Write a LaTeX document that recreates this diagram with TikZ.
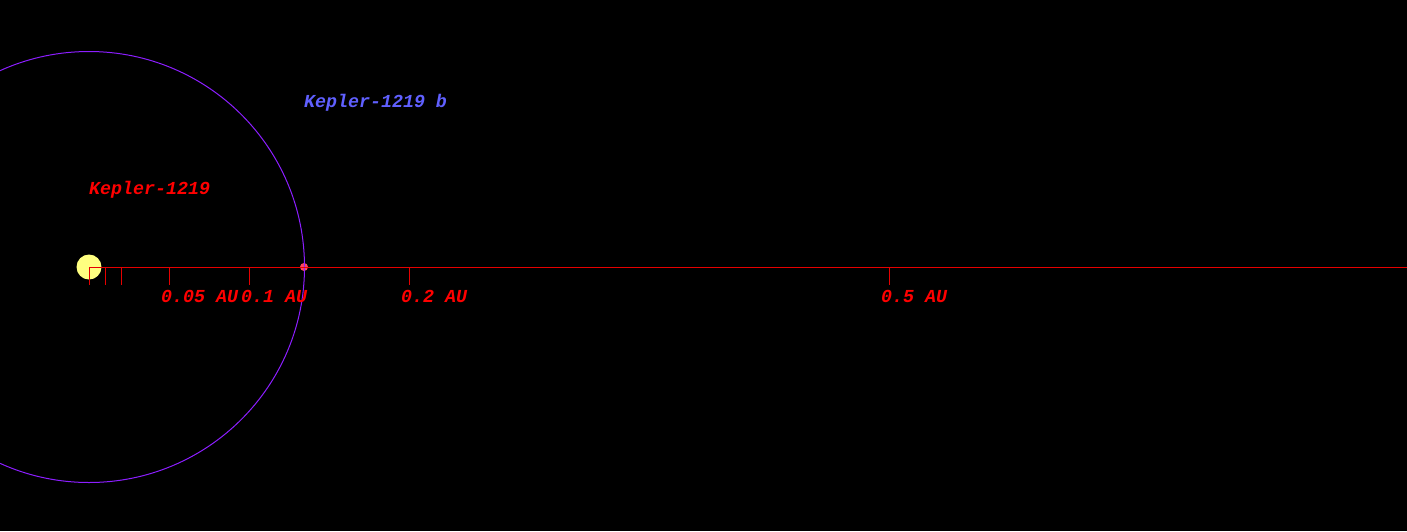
\documentclass[tikz,border=0pt]{standalone}
\usepackage{fontspec}
\setmonofont{Liberation Mono}
\definecolor{bg}{RGB}{0,0,0}
\definecolor{starc}{RGB}{255,255,128}
\definecolor{orbitc}{RGB}{140,30,255}
\definecolor{planetc}{RGB}{255,70,90}
\definecolor{axisc}{RGB}{230,0,0}
\definecolor{namec}{RGB}{96,96,255}
\definecolor{labc}{RGB}{255,0,0}
\tikzset{
  lab/.style={font=\fontsize{18.3}{20}\ttfamily\bfseries\itshape, inner sep=0pt, anchor=base west},
  tickln/.style={draw=axisc, line width=1pt},
}
\begin{document}
\begin{tikzpicture}[x=1pt,y=-1pt]
\fill[bg] (0,0) rectangle (1407,531);
\useasboundingbox (0,0) rectangle (1407,531);
\node[circle, fill=starc, minimum size=25pt, inner sep=0pt] (star) at (89,267) {};
\node[circle, fill=planetc, minimum size=8pt, inner sep=0pt] (planet) at (304,267) {};
\node[circle, draw=orbitc, line width=1pt, minimum size=431pt, inner sep=0pt] (orbit) at (89,267) {};
\coordinate (axend) at (1407,267);
\draw[tickln] (star.center) -- (axend);
\foreach \n/\x in {t0/89,t1/105,t2/121,t5/169,t10/249,t20/409,t50/889}{
  \coordinate (\n) at (\x,267);
  \coordinate (\n b) at (\x,285);
  \draw[tickln] (\n) -- (\n b);
}
\node[lab, text=labc] (l5) at (161,302) {0.05 AU};
\node[lab, text=labc] (l10) at (241,302) {0.1 AU};
\node[lab, text=labc] (l20) at (401,302) {0.2 AU};
\node[lab, text=labc] (l50) at (881,302) {0.5 AU};
\node[lab, text=labc] (sname) at (89,194) {Kepler-1219};
\node[lab, text=namec] (pname) at (304,107) {Kepler-1219 b};
\end{tikzpicture}
\end{document}
